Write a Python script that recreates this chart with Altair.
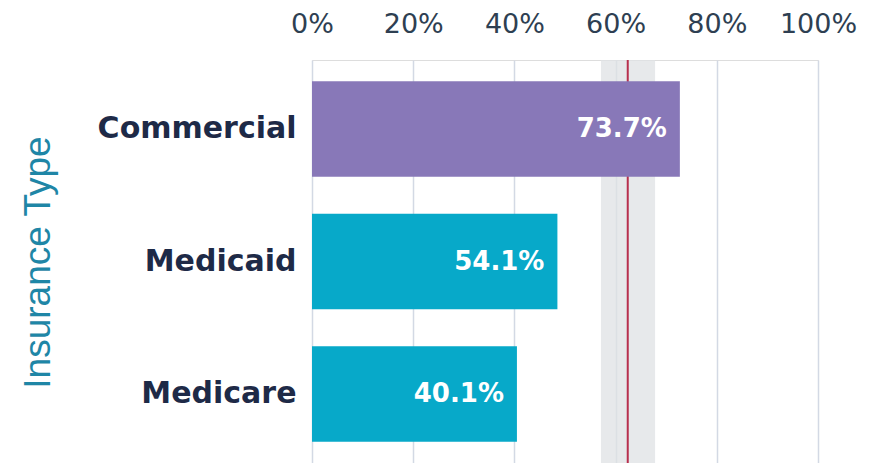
import altair as alt
import pandas as pd

categories = ["Commercial", "Medicaid", "Medicare"]
# bar lengths as drawn in the picture (percent)
values = [72.7, 48.5, 40.5]
bar_colors = ["#8878b8", "#07a9c9", "#07a9c9"]
labels = ["73.7%", "54.1%", "40.1%"]

benchmark = [62.4]
band_low = [57.1]
band_high = [67.8]
tick_values = [0, 20, 40, 60, 80, 100]

df = pd.DataFrame({"cat": categories, "val": values, "color": bar_colors, "label": labels})
band_df = pd.DataFrame({"lo": band_low, "hi": band_high})
rule_df = pd.DataFrame({"b": benchmark})

xscale = alt.Scale(domain=[0, 100], nice=False)

band = alt.Chart(band_df).mark_rect(color="#dfe1e4", opacity=0.75).encode(
    x=alt.X("lo:Q", scale=xscale),
    x2="hi:Q",
)

rule = alt.Chart(rule_df).mark_rule(color="#b8304e", strokeWidth=2).encode(
    x=alt.X("b:Q", scale=xscale),
)

yenc = alt.Y(
    "cat:N",
    sort=categories,
    scale=alt.Scale(paddingInner=0.28, paddingOuter=0.16),
    axis=alt.Axis(
        title="Insurance Type",
        titleFont="Liberation Sans",
        titleFontSize=37,
        titleFontWeight="normal",
        titleColor="#1f86a6",
        titleAngle=270,
        titleX=-274,
        titleY=202,
        titleAlign="center",
        titleBaseline="middle",
        labelFont="DejaVu Sans",
        labelFontSize=30,
        labelFontWeight="bold",
        labelColor="#1e2a47",
        labelPadding=16,
        labelLimit=300,
        ticks=False,
        domain=False,
        grid=False,
    ),
)

bars = alt.Chart(df).mark_bar().encode(
    x=alt.X(
        "val:Q",
        scale=xscale,
        axis=alt.Axis(
            orient="top",
            values=tick_values,
            labelExpr="datum.value + '%'",
            labelFont="DejaVu Sans",
            labelFontSize=27,
            labelColor="#2e3f52",
            labelPadding=22,
            labelOverlap=False,
            labelFlush=False,
            ticks=False,
            domain=False,
            grid=True,
            gridColor="#d3d9e4",
            gridWidth=1.5,
            title=None,
        ),
    ),
    y=yenc,
    color=alt.Color("color:N", scale=None),
)

text = alt.Chart(df).mark_text(
    align="right",
    baseline="middle",
    dx=-13,
    font="DejaVu Sans",
    fontSize=26,
    fontWeight="bold",
    color="white",
).encode(
    x=alt.X("val:Q", scale=xscale),
    y=alt.Y("cat:N", sort=categories),
    text="label:N",
)

chart = alt.layer(band, rule, bars, text).properties(
    width=506,
    height=403,
    autosize=alt.AutoSizeParams(type="none"),
    padding={"left": 304, "top": 52, "right": 54, "bottom": 0},
).configure_view(stroke=None).configure(background="white")

chart.save("out.html", embed_options={"renderer": "svg", "actions": False})
